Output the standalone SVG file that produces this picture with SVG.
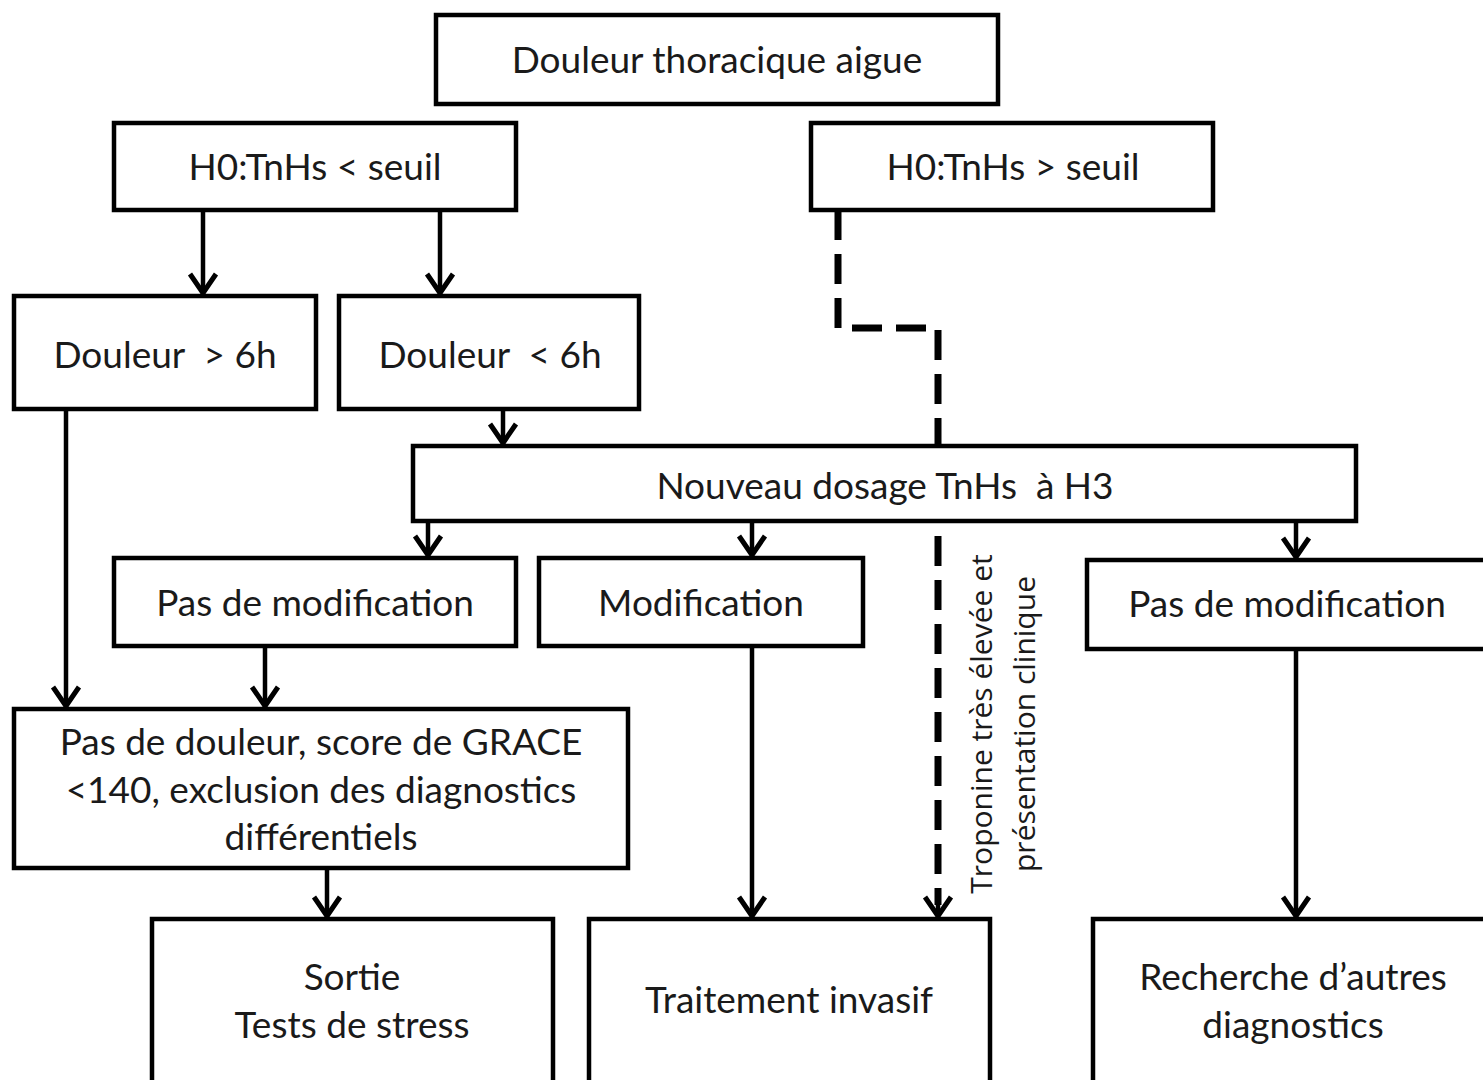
<svg xmlns="http://www.w3.org/2000/svg" width="1483" height="1080" viewBox="0 0 1483 1080">
<defs>
<style>
.box{fill:#fff;stroke:#000;stroke-width:4.5}
.t{font-family:Lato,"Open Sans",sans-serif;font-size:37px;fill:#1a1a1a;text-anchor:middle}
.r{font-family:"Open Sans",Lato,sans-serif;font-size:30px;fill:#1a1a1a;text-anchor:middle}
.c{fill:none;stroke:#000;stroke-width:4.5}
.d{fill:none;stroke:#000;stroke-width:7;stroke-dasharray:30 14}
</style>
<marker id="ah" markerUnits="userSpaceOnUse" viewBox="-24 -16 28 32" refX="0" refY="0" markerWidth="28" markerHeight="32" orient="auto">
<path d="M-20,-13 L-1,0 L-20,13" fill="none" stroke="#000" stroke-width="5"/>
</marker>
</defs>
<rect width="1483" height="1080" fill="#fff"/>
<g id="connectors">
<line class="c" x1="203" y1="210" x2="203" y2="294" marker-end="url(#ah)"/>
<line class="c" x1="440" y1="210" x2="440" y2="294" marker-end="url(#ah)"/>
<line class="c" x1="503" y1="409" x2="503" y2="444" marker-end="url(#ah)"/>
<line class="c" x1="66" y1="409" x2="66" y2="707" marker-end="url(#ah)"/>
<line class="c" x1="428" y1="521" x2="428" y2="556" marker-end="url(#ah)"/>
<line class="c" x1="752" y1="521" x2="752" y2="556" marker-end="url(#ah)"/>
<line class="c" x1="1296" y1="521" x2="1296" y2="558" marker-end="url(#ah)"/>
<line class="c" x1="265" y1="646" x2="265" y2="707" marker-end="url(#ah)"/>
<line class="c" x1="327" y1="868" x2="327" y2="917" marker-end="url(#ah)"/>
<line class="c" x1="752" y1="646" x2="752" y2="917" marker-end="url(#ah)"/>
<line class="c" x1="1296" y1="649" x2="1296" y2="917" marker-end="url(#ah)"/>
<path class="d" d="M838,210 L838,328 L938,328 L938,446"/>
<line class="d" x1="938" y1="536" x2="938" y2="905"/>
<line class="c" x1="938" y1="905" x2="938" y2="917" marker-end="url(#ah)" stroke-width="0"/>
</g>
<g id="n1"><rect class="box" x="436" y="15" width="562" height="89"/><text class="t" x="717" y="73">Douleur thoracique aigue</text></g>
<g id="n2"><rect class="box" x="114" y="123" width="402" height="87"/><text class="t" x="315" y="180">H0:TnHs &lt; seuil</text></g>
<g id="n3"><rect class="box" x="811" y="123" width="402" height="87"/><text class="t" x="1013" y="180">H0:TnHs &gt; seuil</text></g>
<g id="n4"><rect class="box" x="14" y="296" width="302" height="113"/><text class="t" x="165" y="368" xml:space="preserve">Douleur  &gt; 6h</text></g>
<g id="n5"><rect class="box" x="339" y="296" width="300" height="113"/><text class="t" x="490" y="368" xml:space="preserve">Douleur  &lt; 6h</text></g>
<g id="n6"><rect class="box" x="413" y="446" width="943" height="75"/><text class="t" x="885" y="499" xml:space="preserve">Nouveau dosage TnHs  à H3</text></g>
<g id="n7"><rect class="box" x="114" y="558" width="402" height="88"/><text class="t" x="315" y="616">Pas de modification</text></g>
<g id="n8"><rect class="box" x="539" y="558" width="324" height="88"/><text class="t" x="701" y="616">Modification</text></g>
<g id="n9"><rect class="box" x="1087" y="560" width="410" height="89"/><text class="t" x="1287" y="617">Pas de modification</text></g>
<g id="n10"><rect class="box" x="14" y="709" width="614" height="159"/><text class="t" x="321" y="755">Pas de douleur, score de GRACE</text><text class="t" x="321" y="803">&lt;140, exclusion des diagnostics</text><text class="t" x="321" y="850">différentiels</text></g>
<g id="n11"><rect class="box" x="152" y="919" width="401" height="175"/><text class="t" x="352" y="990">Sortie</text><text class="t" x="352" y="1038">Tests de stress</text></g>
<g id="n12"><rect class="box" x="589" y="919" width="401" height="175"/><text class="t" x="789" y="1013">Traitement invasif</text></g>
<g id="n13"><rect class="box" x="1093" y="919" width="410" height="175"/><text class="t" x="1293" y="990">Recherche d’autres</text><text class="t" x="1293" y="1038">diagnostics</text></g>
<g id="label" transform="rotate(-90 992 724)"><text class="r" x="992" y="724">Troponine très élevée et</text><text class="r" x="992" y="767">présentation clinique</text></g>
</svg>
